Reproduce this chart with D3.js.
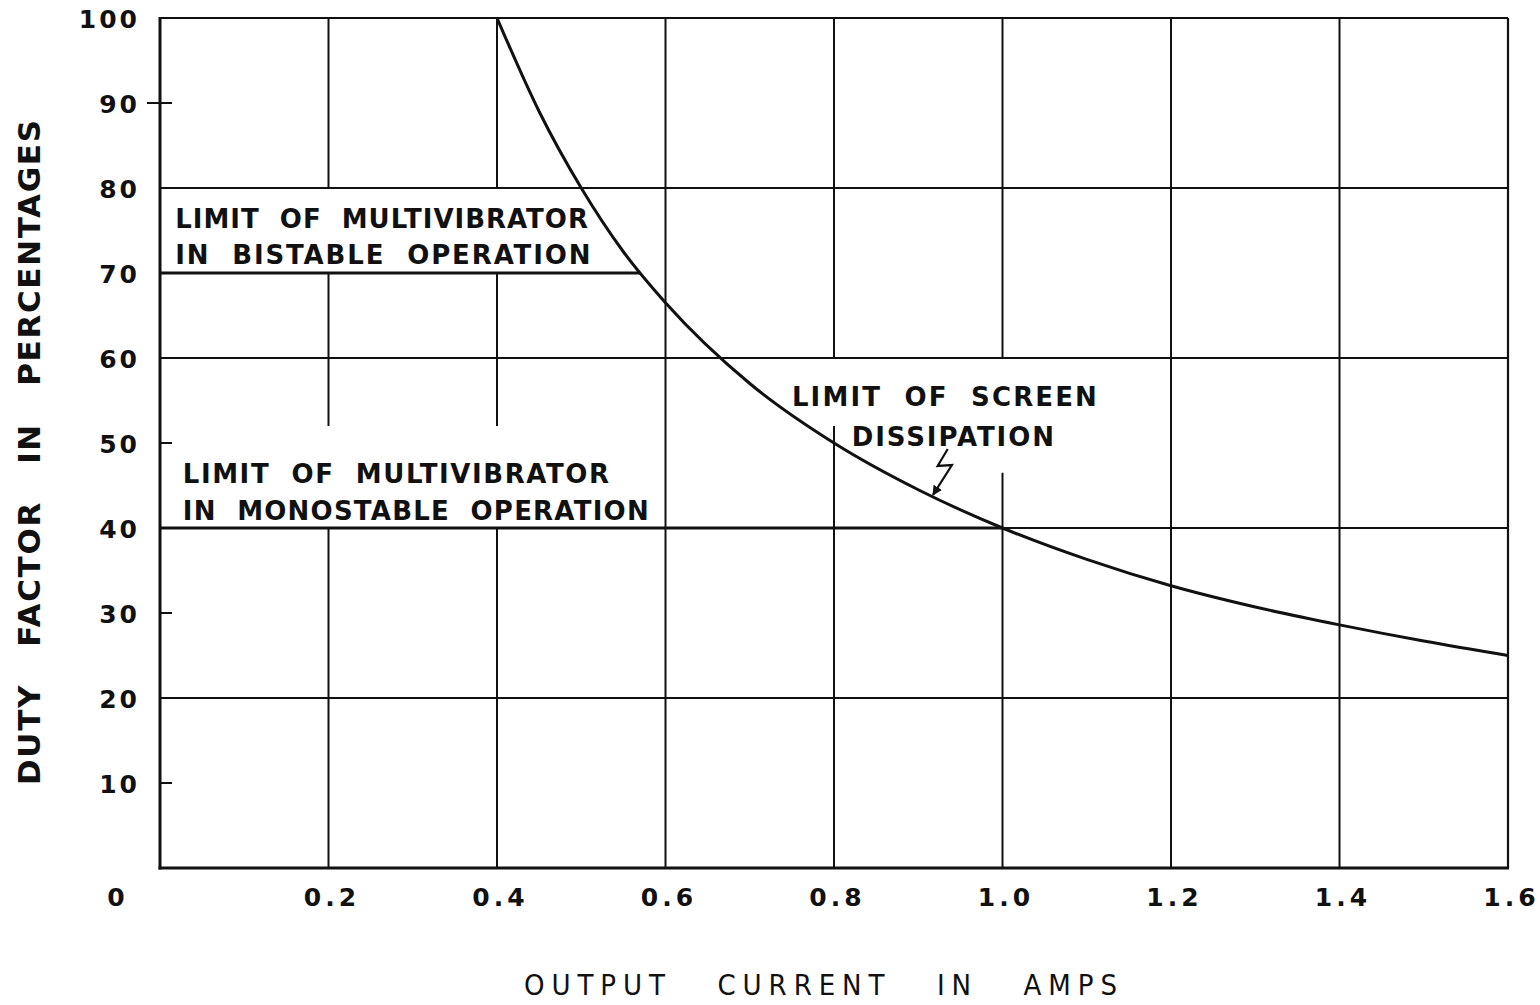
<!DOCTYPE html>
<html>
<head>
<meta charset="utf-8">
<script src="https://cdn.jsdelivr.net/npm/d3@7"></script>
<style>
  html, body { margin: 0; padding: 0; background: #fff; }
  svg { display: block; }
  text { fill: #111; }
</style>
</head>
<body>
<svg id="chart" width="1540" height="1005"></svg>
<script>
// ---------------- DATA ----------------
const xTicks = [0.2, 0.4, 0.6, 0.8, 1.0, 1.2, 1.4, 1.6];
const xTickLabels = ["0.2", "0.4", "0.6", "0.8", "1.0", "1.2", "1.4", "1.6"];
const yTicks = [10, 20, 30, 40, 50, 60, 70, 80, 90, 100];
const yGridValues = [20, 40, 60, 80];
const yMinorTicks = [90, 50, 30, 10];

// Limit of screen dissipation curve (output current in A, duty factor %)
const curveCurrent = [0.40, 0.45, 0.50, 0.55, 0.60, 0.70, 0.80, 0.90, 1.00, 1.10, 1.20, 1.30, 1.40, 1.50, 1.60];
const curveDuty    = [100,  89,   80,   72.5, 66.5, 57,   50,   44.5, 40,   36.3, 33.2, 30.7, 28.6, 26.7, 25];

// Horizontal limit lines
const limitNames   = ["bistable", "monostable"];
const limitDuty    = [70, 40];
const limitEndAmps = [0.57, 1.0];

// Gridline breaks (vertical gridline value, duty from, duty to)
const breakX    = [0.2, 0.4, 0.2, 0.4, 0.8, 1.0];
const breakFrom = [70, 70, 40, 40, 52, 46.5];
const breakTo   = [80, 80, 52, 52, 60, 60];

// Annotation texts
const labelLines = [
  "LIMIT OF MULTIVIBRATOR", "IN BISTABLE OPERATION",
  "LIMIT OF MULTIVIBRATOR", "IN MONOSTABLE OPERATION",
  "LIMIT OF SCREEN", "DISSIPATION"
];
const xTitle = "OUTPUT CURRENT IN AMPS";
const yTitle = "DUTY FACTOR IN PERCENTAGES";

// Lightning-arrow leader (data coords)
const leaderAmps = [0.935, 0.923, 0.940, 0.9175];
const leaderDuty = [49.3, 47.3, 47.4, 43.9];

// ---------------- LAYOUT ----------------
const svg = d3.select("#chart");
const L = 160, R = 1508, T = 18, B = 868;
const x = d3.scaleLinear().domain([0, 1.6]).range([L, R]);
const y = d3.scaleLinear().domain([0, 100]).range([B, T]);
const ink = "#111";
const fontMain = "'DejaVu Sans', 'Noto Sans', sans-serif";

// vertical gridlines with breaks
const g = svg.append("g");
xTicks.slice(0, -1).forEach(v => {
  const brs = breakX.map((bx, i) => ({bx, f: breakFrom[i], t: breakTo[i]}))
    .filter(b => Math.abs(b.bx - v) < 1e-9)
    .sort((a, b) => a.f - b.f);
  let start = 0;
  const segs = [];
  brs.forEach(b => { segs.push([start, b.f]); start = b.t; });
  segs.push([start, 100]);
  segs.forEach(s => {
    g.append("line")
      .attr("x1", x(v)).attr("x2", x(v))
      .attr("y1", y(s[0])).attr("y2", y(s[1]))
      .attr("stroke", ink).attr("stroke-width", 2);
  });
});

// horizontal gridlines
yGridValues.forEach(v => {
  g.append("line")
    .attr("x1", x(0)).attr("x2", x(1.6))
    .attr("y1", y(v)).attr("y2", y(v))
    .attr("stroke", ink).attr("stroke-width", 2);
});

// frame
g.append("line").attr("x1", x(0)).attr("x2", x(1.6)).attr("y1", y(100)).attr("y2", y(100))
  .attr("stroke", ink).attr("stroke-width", 2);
g.append("line").attr("x1", x(1.6)).attr("x2", x(1.6)).attr("y1", y(100)).attr("y2", y(0))
  .attr("stroke", ink).attr("stroke-width", 2.2);
g.append("line").attr("x1", x(0)).attr("x2", x(0)).attr("y1", y(100) - 1).attr("y2", y(0) + 1.5)
  .attr("stroke", ink).attr("stroke-width", 3);
g.append("line").attr("x1", x(0) - 1.5).attr("x2", x(1.6) + 1).attr("y1", y(0)).attr("y2", y(0))
  .attr("stroke", ink).attr("stroke-width", 3);

// minor ticks on y axis
yMinorTicks.forEach(v => {
  g.append("line")
    .attr("x1", v === 90 ? x(0) - 13 : x(0)).attr("x2", x(0) + 12)
    .attr("y1", y(v)).attr("y2", y(v))
    .attr("stroke", ink).attr("stroke-width", 2);
});

// limit lines
limitNames.forEach((n, i) => {
  g.append("line")
    .attr("x1", x(0)).attr("x2", x(limitEndAmps[i]))
    .attr("y1", y(limitDuty[i])).attr("y2", y(limitDuty[i]))
    .attr("stroke", ink).attr("stroke-width", 3);
});

// curve
const pts = curveCurrent.map((c, i) => [c, curveDuty[i]]);
const line = d3.line().x(d => x(d[0])).y(d => y(d[1])).curve(d3.curveMonotoneX);
g.append("path").datum(pts).attr("d", line)
  .attr("fill", "none").attr("stroke", ink).attr("stroke-width", 3);

// lightning leader with arrowhead
svg.append("defs").append("marker")
  .attr("id", "ah").attr("viewBox", "0 0 10 10").attr("refX", 9).attr("refY", 5)
  .attr("markerWidth", 4.5).attr("markerHeight", 4.5).attr("orient", "auto")
  .append("path").attr("d", "M0,0 L10,5 L0,10 z").attr("fill", ink);
const lpts = leaderAmps.map((a, i) => [x(a), y(leaderDuty[i])]);
g.append("path").attr("d", d3.line()(lpts))
  .attr("fill", "none").attr("stroke", ink).attr("stroke-width", 2.2)
  .attr("stroke-linejoin", "miter").attr("marker-end", "url(#ah)");

// ---------------- TEXT ----------------
// y tick labels
const yAxis = d3.axisLeft(y).tickValues(yTicks).tickSize(0).tickPadding(0).tickFormat(d3.format("d"));
const ya = svg.append("g").attr("transform", `translate(${L - 20},0)`).call(yAxis);
ya.select(".domain").remove();
ya.selectAll("text")
  .attr("font-family", fontMain).attr("font-size", 25).attr("font-weight", "bold")
  .attr("letter-spacing", 3).attr("fill", ink).attr("dy", "0.36em");

// x tick labels
const xAxis = d3.axisBottom(x).tickValues(xTicks).tickSize(0).tickPadding(0)
  .tickFormat((d, i) => xTickLabels[i]);
const xa = svg.append("g").attr("transform", `translate(0,${B + 38})`).call(xAxis);
xa.select(".domain").remove();
xa.selectAll("text")
  .attr("font-family", fontMain).attr("font-size", 25).attr("font-weight", "bold")
  .attr("letter-spacing", 4).attr("fill", ink).attr("dy", 0)
  .attr("dx", 3);
// origin label
svg.append("text").attr("x", x(0) - 44).attr("y", B + 38)
  .attr("text-anchor", "middle").attr("font-family", fontMain).attr("font-size", 25)
  .attr("font-weight", "bold").attr("fill", ink).text("0");

// annotation labels: [text index, x amps, duty baseline, right edge amps]
const labelPos = [
  [0, 0.018, 75.3, 0.508], [1, 0.018, 71.1, 0.511],
  [2, 0.027, 45.3, 0.533], [3, 0.027, 41.0, 0.580],
  [4, 0.750, 54.4, 1.112], [5, 0.821, 49.6, 1.061]
];
labelPos.forEach(p => {
  const x0 = x(p[1]), x1 = x(p[3]);
  svg.append("text")
    .attr("x", x0).attr("y", y(p[2]))
    .attr("font-family", fontMain).attr("font-size", 26).attr("font-weight", "bold")
    .attr("textLength", x1 - x0).attr("lengthAdjust", "spacing")
    .attr("fill", ink)
    .text(labelLines[p[0]].replace(/ /g, "\u00A0\u00A0"));
});

// x title
svg.append("text").attr("x", 524).attr("y", 995)
  .attr("font-family", "'DejaVu Sans Condensed', 'DejaVu Sans', sans-serif")
  .attr("font-size", 29).attr("textLength", 593).attr("lengthAdjust", "spacing")
  .attr("fill", ink).text(xTitle.replace(/ /g, "\u00A0\u00A0\u00A0"));

// y title
svg.append("text").attr("transform", "translate(40,785) rotate(-90)")
  .attr("font-family", fontMain).attr("font-size", 31).attr("font-weight", "bold")
  .attr("textLength", 665).attr("lengthAdjust", "spacing")
  .attr("fill", ink).text(yTitle.replace(/ /g, "\u00A0\u00A0\u00A0"));
</script>
</body>
</html>
